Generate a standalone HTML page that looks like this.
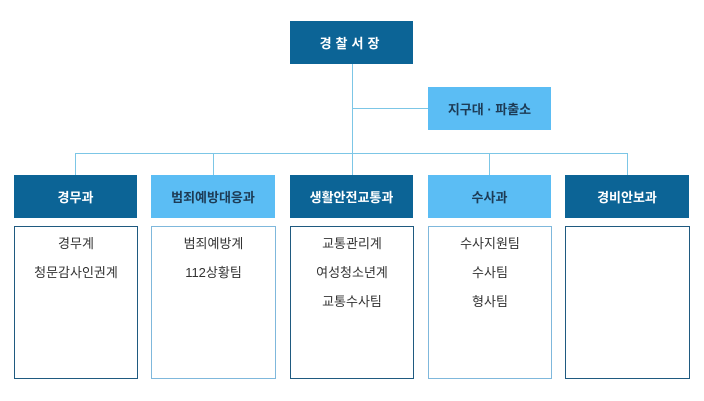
<!DOCTYPE html>
<html><head><meta charset="utf-8"><style>
body{margin:0;width:704px;height:401px;background:#fff;position:relative;font-family:"Liberation Sans","Noto Sans CJK KR",sans-serif;overflow:hidden}
.b{position:absolute;display:flex;align-items:center;justify-content:center;font-size:13px;font-weight:bold}
.d{background:#0c6496;color:#fff}
.l{background:#5bbdf4;color:#1d3b55}
.ln{position:absolute;background:#7cc6e6}
.box{position:absolute;top:226px;height:153px;box-sizing:border-box;border:1px solid #1f5a80;text-align:center;font-size:13px;color:#333;padding-top:8px}
.box.lt{border-color:#7fb8dc}
.box div{height:29px;line-height:18px}
</style></head><body>
<div class="ln" style="left:352px;top:64px;width:1px;height:111px"></div>
<div class="ln" style="left:352px;top:108px;width:76px;height:1px"></div>
<div class="ln" style="left:75px;top:153px;width:553px;height:1px"></div>
<div class="ln" style="left:75px;top:153px;width:1px;height:22px"></div>
<div class="ln" style="left:213px;top:153px;width:1px;height:22px"></div>
<div class="ln" style="left:489px;top:153px;width:1px;height:22px"></div>
<div class="ln" style="left:627px;top:153px;width:1px;height:22px"></div>
<div class="b d" style="left:290px;top:21px;width:123px;height:43px;letter-spacing:4px">경찰서장</div>
<div class="b l" style="left:428px;top:87px;width:123px;height:43px">지구대 · 파출소</div>
<div class="b d" style="left:14px;top:175px;width:123px;height:43px">경무과</div>
<div class="b l" style="left:151px;top:175px;width:124px;height:43px">범죄예방대응과</div>
<div class="b d" style="left:290px;top:175px;width:123px;height:43px">생활안전교통과</div>
<div class="b l" style="left:428px;top:175px;width:123px;height:43px">수사과</div>
<div class="b d" style="left:565px;top:175px;width:124px;height:43px">경비안보과</div>
<div class="box" style="left:14px;width:124px"><div>경무계</div><div>청문감사인권계</div></div>
<div class="box lt" style="left:151px;width:125px"><div>범죄예방계</div><div>112상황팀</div></div>
<div class="box" style="left:290px;width:124px"><div>교통관리계</div><div>여성청소년계</div><div>교통수사팀</div></div>
<div class="box lt" style="left:428px;width:124px"><div>수사지원팀</div><div>수사팀</div><div>형사팀</div></div>
<div class="box" style="left:565px;width:125px"></div>
</body></html>
